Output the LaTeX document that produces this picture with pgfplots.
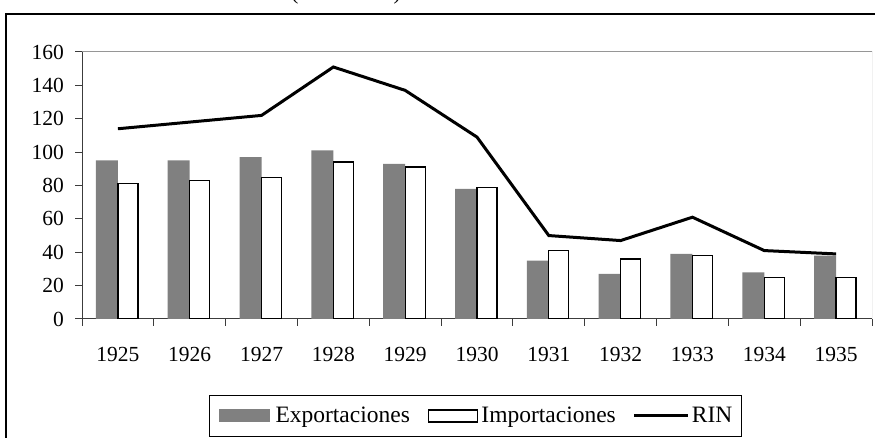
\documentclass[border=0pt]{standalone}
\usepackage{fontspec}
\setmainfont{Liberation Serif}
\usepackage{pgfplots}
\pgfplotsset{compat=1.18}
\definecolor{expg}{RGB}{128,128,128}
\definecolor{axg}{RGB}{60,60,60}
\definecolor{frg}{RGB}{150,150,150}
\begin{document}
\begin{tikzpicture}[x=1pt,y=1pt]
\useasboundingbox (0,0) rectangle (875,438);
\clip (0,0) rectangle (875,438);
\fill[white] (0,0) rectangle (875,438);
\draw[line width=1.2pt] (6,-10) rectangle (885,424);
\node[anchor=base, inner sep=0pt, font=\fontsize{22}{26}\selectfont] at (346,438.5) {(1925-1935)};
\begin{axis}[
  at={(82pt,119pt)}, anchor=south west,
  width=790pt, height=267pt, scale only axis,
  xmin=-0.5, xmax=10.5, ymin=0, ymax=160,
  axis x line*=bottom, axis y line*=left,
  axis line style={line width=1pt, color=axg},
  ytick={0,20,...,160},
  xtick={-0.5,0.5,...,10.5},
  x tick label as interval,
  xticklabels={1925,1926,1927,1928,1929,1930,1931,1932,1933,1934,1935},
  tick align=outside, major tick length=7pt,
  tick style={line width=1pt, color=axg},
  /pgf/number format/assume math mode=true,
  ticklabel style={font=\fontsize{21.5}{25}\selectfont},
  yticklabel style={anchor=east, inner sep=0pt, xshift=-11pt},
  xticklabel style={anchor=north, inner sep=0pt, yshift=-21pt},
  legend columns=3,
  legend cell align=left,
  legend style={at={(0.498,-0.3633)}, anchor=center, draw=black, line width=1pt,
    inner xsep=9pt, inner ysep=10pt,
    font=\fontsize{23.5}{26}\selectfont,
    nodes={inner sep=0pt, text height=17pt, text depth=4pt},
    /tikz/column 1/.style={column sep=6pt},
    /tikz/column 2/.style={column sep=18pt},
    /tikz/column 3/.style={column sep=3.5pt},
    /tikz/column 4/.style={column sep=17pt},
    /tikz/column 5/.style={column sep=2pt}},
]
\addplot[ybar, bar width=22pt, bar shift=-11pt, fill=expg, draw=none,
  legend image code/.code={\fill[expg] (0pt,-6.5pt) rectangle (51pt,6.5pt);}]
  coordinates {(0,95) (1,95) (2,97) (3,101) (4,93) (5,78) (6,35) (7,27) (8,39) (9,28) (10,38)};
\addlegendentry{Exportaciones}
\addplot[ybar, bar width=20pt, bar shift=10pt, fill=white, draw=black, line width=1.3pt,
  legend image code/.code={\draw[line width=1.3pt, fill=white] (0.65pt,-6pt) rectangle (49.35pt,6pt);}]
  coordinates {(0,81) (1,83) (2,85) (3,94) (4,91) (5,79) (6,41) (7,36) (8,38) (9,25) (10,25)};
\addlegendentry{Importaciones}
\addplot[black, line width=3pt, no marks, sharp plot,
  legend image code/.code={\draw[line width=3pt] (0pt,0pt) -- (54pt,0pt);}]
  coordinates {(0,114) (1,118) (2,122) (3,151) (4,137) (5,109) (6,50) (7,47) (8,61) (9,41) (10,39)};
\addlegendentry{RIN}
\draw[frg, line width=1pt] (rel axis cs:0,1) -- (rel axis cs:1,1) -- (rel axis cs:1,0);
\end{axis}
\end{tikzpicture}
\end{document}
